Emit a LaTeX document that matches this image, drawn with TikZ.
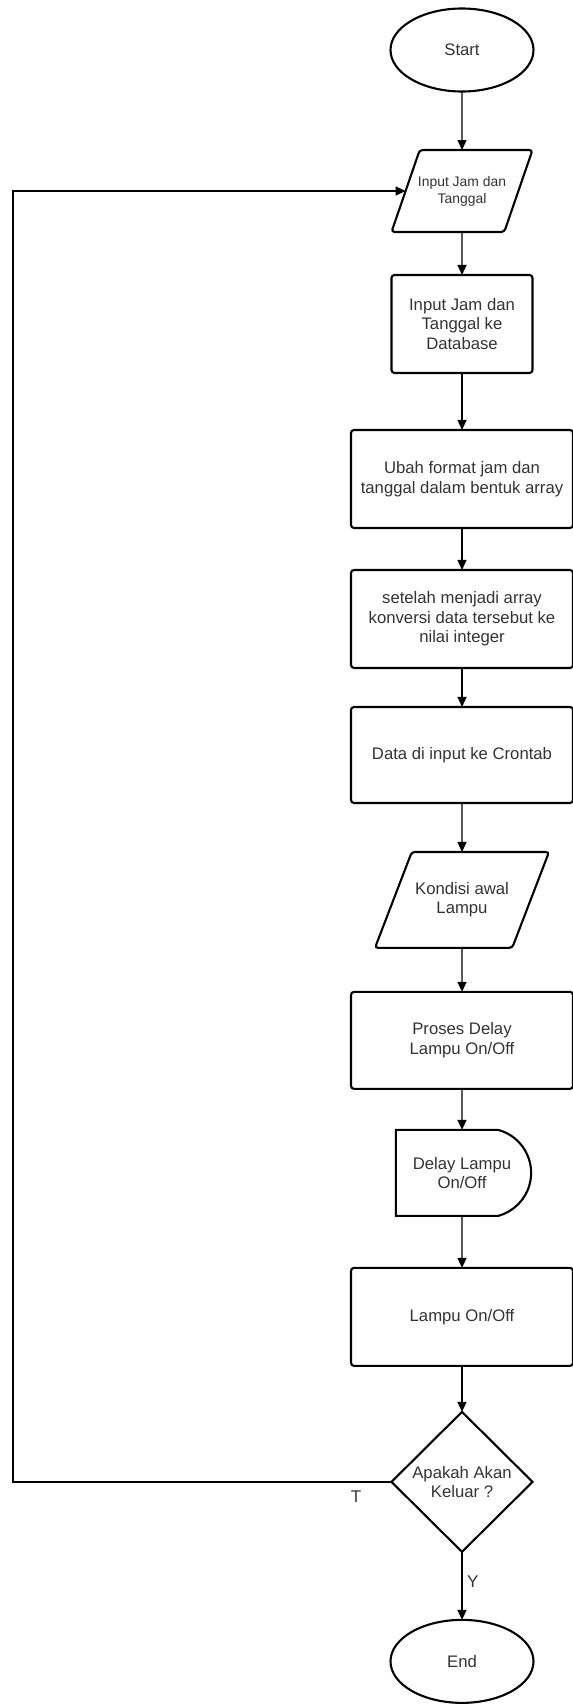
\documentclass[tikz,border=0pt]{standalone}
\usepackage{fontspec}
\setmainfont{Liberation Sans}
\usetikzlibrary{arrows.meta,positioning,shapes.geometric,shapes.misc}

\begin{document}
\begin{tikzpicture}[%
    >={Triangle[length=10pt,width=9pt]},
    every node/.style={text=black!80}, % grey text, black borders
    ]
\tikzset{
  base/.style={draw=black, line width=2.1pt, outer sep=0pt, align=center, font=\fontsize{16.7}{19.5}\selectfont},
  term/.style={base, ellipse, minimum width=143pt, minimum height=83pt},
  inout/.style={base, trapezium, trapezium left angle=71, trapezium right angle=109, trapezium stretches body=true, rounded corners=3pt, minimum width=141pt, inner ysep=26pt},
  proc/.style={base, rectangle, rounded corners=3pt, minimum width=222pt, minimum height=98pt},
  delaybox/.style={base, rounded rectangle, rounded rectangle left arc=none, rounded rectangle arc length=150, minimum width=142pt, minimum height=86pt},
  decision/.style={base, diamond, aspect=1, minimum width=141pt, minimum height=140pt, inner sep=0pt},
  ar/.style={->, line width=1.4pt},
  yt/.style={inner sep=0pt, font=\fontsize{17}{17}\selectfont}
}
    \useasboundingbox (0,0) rectangle (573pt,-1706pt);
    \coordinate (back) at (13pt,0);  % x of the return line
    \node [term] (start) at (462pt,-50pt) {Start};
    \node [inout, below=58.5pt of start, inner xsep=-2pt, font=\fontsize{13.9}{17}\selectfont] (input) {Input Jam dan\\Tanggal};
        \draw [ar] (start) -- (input);
    \node [proc, below=43pt of input, minimum width=141pt] (dbase) {Input Jam dan\\Tanggal ke\\Database};
        \draw [ar] (input) -- (dbase);
    \node [proc, below=57pt of dbase] (ubah) {Ubah format jam dan\\tanggal dalam bentuk array};
        \draw [ar] (dbase) -- (ubah);
    \node [proc, below=42pt of ubah] (konv) {setelah menjadi array\\konversi data tersebut ke\\nilai integer};
        \draw [ar] (ubah) -- (konv);
    \node [proc, below=39pt of konv, minimum height=96pt] (cron) {Data di input ke Crontab};
        \draw [ar] (konv) -- (cron);
    \node [inout, below=49pt of cron, minimum width=169pt, inner ysep=30.4pt, trapezium left angle=69, trapezium right angle=111] (awal) {Kondisi awal\\Lampu};
        \draw [ar] (cron) -- (awal);
    \node [proc, below=44pt of awal, minimum height=97pt] (proses) {Proses Delay\\Lampu On/Off};
        \draw [ar] (awal) -- (proses);
    \node [delaybox, below=41pt of proses] (delay) {Delay Lampu\\On/Off};
        \draw [ar] (proses) -- (delay);
    \node [proc, below=52pt of delay] (lampu) {Lampu On/Off};
        \draw [ar] (delay) -- (lampu);
    \node [decision, below=46pt of lampu] (dec) {Apakah Akan\\Keluar ?};
        \draw [ar] (lampu) -- (dec);
    \node [term, below=68pt of dec] (end) {End};
        \draw [ar] (dec) -- (end);
        \node [yt, below right=24pt and 5pt of dec.south] (ylbl) {Y};
        \draw [ar] (dec.west) -- (dec.west -| back) |- (input.west);
        \node [yt, below left=9pt and 30pt of dec.west] (tlbl) {T};
\end{tikzpicture}
\end{document}
